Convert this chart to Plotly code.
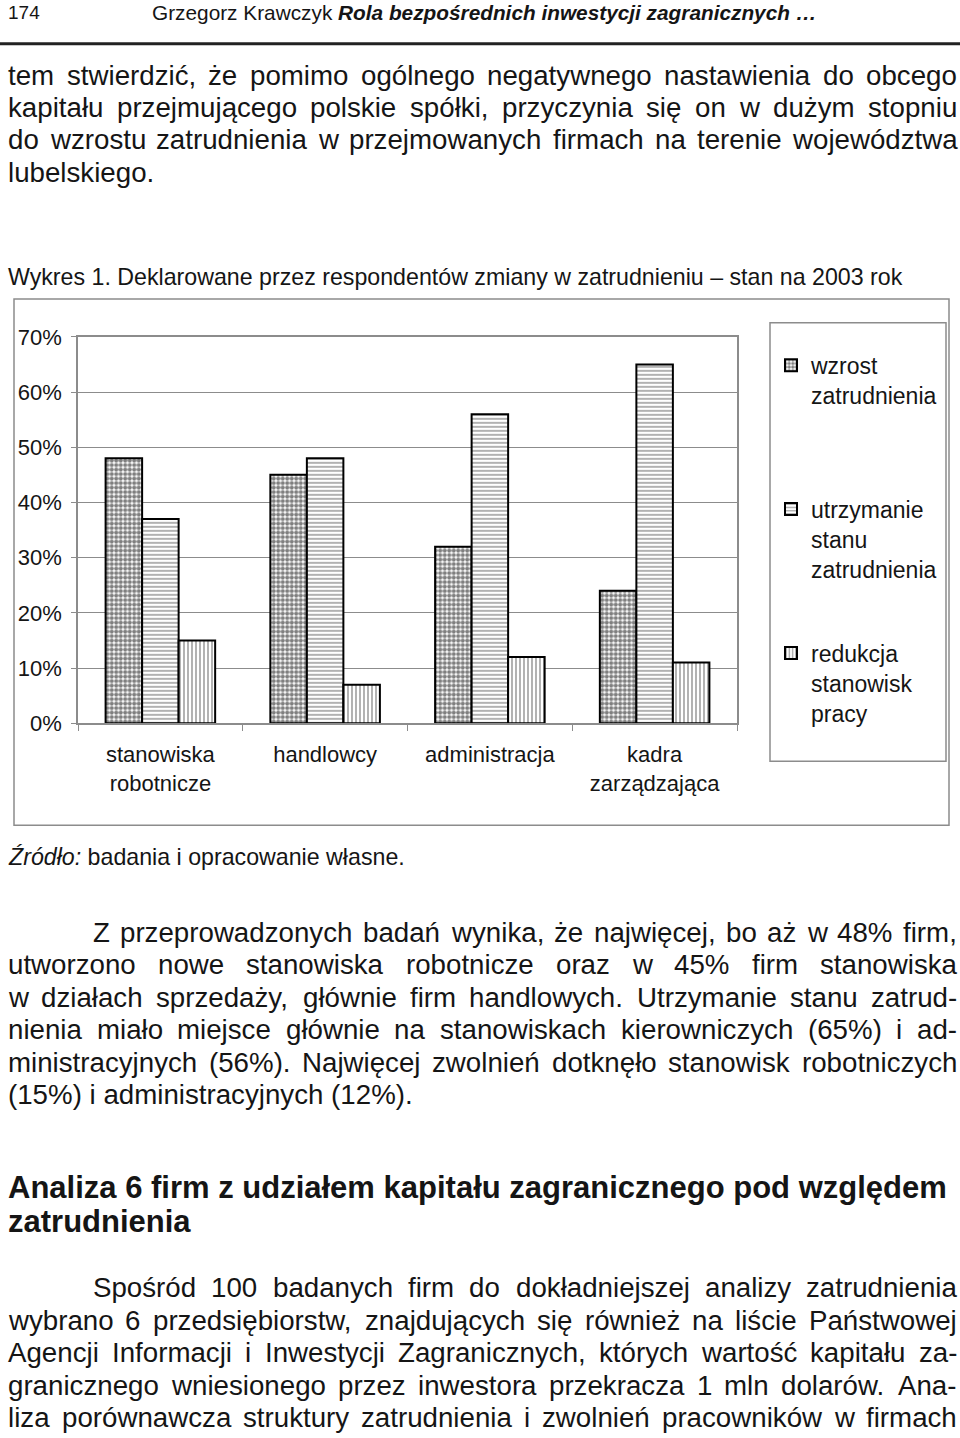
import plotly.graph_objects as go

W, H = 960, 1438
# the page photo comes out slightly taller than the figure (about 11 px added on
# top, rest at the bottom, then squeezed back to 1438); these two numbers undo it
SHIFT, SQUEEZE = 10.7, 0.984

# chart data (shares of firms)
categories = ["stanowiska<br>robotnicze", "handlowcy", "administracja", "kadra<br>zarządzająca"]
wzrost = [0.48, 0.45, 0.32, 0.24]
utrzymanie = [0.37, 0.48, 0.56, 0.65]
redukcja = [0.15, 0.07, 0.12, 0.11]
series_names = ["wzrost<br>zatrudnienia", "utrzymanie<br>stanu<br>zatrudnienia", "redukcja<br>stanowisk<br>pracy"]
y_ticks = [0, 0.1, 0.2, 0.3, 0.4, 0.5, 0.6, 0.7]
y_tick_labels = ["0%", "10%", "20%", "30%", "40%", "50%", "60%", "70%"]

# page text
header_num = "174"
header_text = "Grzegorz Krawczyk <b><i>Rola bezpośrednich inwestycji zagranicznych …</i></b>"
par1 = [
    "tem stwierdzić, że pomimo ogólnego negatywnego nastawienia do obcego",
    "kapitału przejmującego polskie spółki, przyczynia się on w dużym stopniu",
    "do wzrostu zatrudnienia w przejmowanych firmach na terenie województwa",
    "lubelskiego.",
]
caption = "Wykres 1. Deklarowane przez respondentów zmiany w zatrudnieniu – stan na 2003 rok"
source = "<i>Źródło:</i> badania i opracowanie własne."
par2 = [
    "Z przeprowadzonych badań wynika, że najwięcej, bo aż w 48% firm,",
    "utworzono nowe stanowiska robotnicze oraz w 45% firm stanowiska",
    "w działach sprzedaży, głównie firm handlowych. Utrzymanie stanu zatrud-",
    "nienia miało miejsce głównie na stanowiskach kierowniczych (65%) i ad-",
    "ministracyjnych (56%). Najwięcej zwolnień dotknęło stanowisk robotniczych",
    "(15%) i administracyjnych (12%).",
]
heading = ["Analiza 6 firm z udziałem kapitału zagranicznego pod względem", "zatrudnienia"]
par3 = [
    "Spośród 100 badanych firm do dokładniejszej analizy zatrudnienia",
    "wybrano 6 przedsiębiorstw, znajdujących się również na liście Państwowej",
    "Agencji Informacji i Inwestycji Zagranicznych, których wartość kapitału za-",
    "granicznego wniesionego przez inwestora przekracza 1 mln dolarów. Ana-",
    "liza porównawcza struktury zatrudnienia i zwolnień pracowników w firmach",
]

FONT = "Liberation Sans, Arial, sans-serif"
INK = "#151515"
GRAY = "#8c8c8c"
BODY = 27.7


def py(v):
    return 1 - ((v - SHIFT) / SQUEEZE) / H


def px(v):
    return v / W


# approx Arial / Liberation Sans advance widths (1/1000 em)
widths = {}
for chars, w in [
    ("ijlł", 222), ("ftI ,.:", 278), ("r()-", 333), ("cksvxyzćśźżJ", 500),
    ("abdeghnopquąęńó0123456789L", 556), ("FTZŹŻ", 611), ("ABEKPSVXYŚ", 667),
    ("wCDHNRU", 722), ("GOQ", 778), ("mM", 833), ("%", 889), ("W", 944),
]:
    for c in chars:
        widths[c] = w


def text_w(s, size):
    return sum(widths.get(c, 556) for c in s) / 1000 * size


annotations = []


def add_text(text, x, y, size=BODY, anchor="left"):
    annotations.append(dict(
        text=text, x=px(x), y=py(y), xref="paper", yref="paper",
        xanchor=anchor, yanchor="middle", showarrow=False,
        font=dict(family=FONT, size=size, color=INK), borderpad=0,
    ))


def add_justified(line, left, right, y, size=BODY):
    words = line.split()
    total = sum(text_w(w, size) for w in words)
    gap = (right - left - total) / (len(words) - 1)
    x = left
    for w in words:
        add_text(w, x, y, size)
        x += text_w(w, size) + gap


def add_paragraph(lines, y0, step, indent, last_justified=False):
    for i, line in enumerate(lines):
        left = 92 if (indent and i == 0) else 7
        y = y0 + i * step
        if i == len(lines) - 1 and not last_justified:
            add_text(line, left, y)
        else:
            add_justified(line, left, 956, y)


add_text(header_num, 7, 11, size=19)
add_text(header_text, 151, 11, size=20.8)
add_paragraph(par1, 74, 32.4, indent=False)
add_text(caption, 7, 276, size=23.2)
add_text(source, 7, 857, size=23.2)
add_paragraph(par2, 932, 32.6, indent=True)
add_text("<b>" + heading[0] + "</b>", 7, 1188, size=31)
add_text("<b>" + heading[1] + "</b>", 7, 1222, size=31)
add_paragraph(par3, 1288, 32.6, indent=True, last_justified=True)

patterns = [
    dict(shape=".", size=4.5, solidity=0.65, fgcolor="black", bgcolor="white"),
    dict(shape="-", size=4, solidity=0.3, fgcolor="black", bgcolor="white"),
    dict(shape="|", size=4, solidity=0.3, fgcolor="black", bgcolor="white"),
]

fig = go.Figure()
for vals, name, pat, leg in zip(
    [wzrost, utrzymanie, redukcja], series_names, patterns, ["legend", "legend2", "legend3"]
):
    fig.add_trace(go.Bar(
        x=categories, y=vals, name=name, legend=leg, showlegend=True,
        marker=dict(color="white", line=dict(color="black", width=2), pattern=pat),
    ))

legend_style = dict(
    xanchor="left", yanchor="top", bgcolor="rgba(0,0,0,0)", borderwidth=0,
    font=dict(family=FONT, size=23, color=INK), valign="top", itemclick=False,
)

fig.update_layout(
    width=W, height=H, autosize=False, showlegend=True,
    margin=dict(l=0, r=0, t=0, b=0),
    paper_bgcolor="white", plot_bgcolor="white",
    barmode="group", bargap=0.335, bargroupgap=0,
    font=dict(family=FONT, color=INK),
    xaxis=dict(
        domain=[px(78), px(737)], showgrid=False, showline=True, linecolor=GRAY,
        linewidth=1.5, mirror=True, ticks="outside", ticklen=6, tickcolor=GRAY,
        tickson="boundaries", tickfont=dict(family=FONT, size=22, color=INK),
        ticklabelstandoff=11,
    ),
    yaxis=dict(
        domain=[py(723), py(336)], range=[0, 0.7], tickvals=y_ticks, ticktext=y_tick_labels,
        showgrid=True, gridcolor=GRAY, gridwidth=1.2, showline=True, linecolor=GRAY,
        linewidth=1.5, mirror=True, ticks="outside", ticklen=5, tickcolor=GRAY,
        zeroline=False, tickfont=dict(family=FONT, size=22, color=INK),
        ticklabelstandoff=5,
    ),
    legend=dict(x=px(771), y=py(343), **legend_style),
    legend2=dict(x=px(771), y=py(487), **legend_style),
    legend3=dict(x=px(771), y=py(631), **legend_style),
    annotations=annotations,
    shapes=[
        dict(type="line", xref="paper", yref="paper", x0=0, x1=1, y0=py(42.5), y1=py(42.5),
             line=dict(color="#222222", width=3)),
        dict(type="rect", xref="paper", yref="paper", x0=px(14), x1=px(949),
             y0=py(298), y1=py(825), line=dict(color=GRAY, width=1.5)),
        dict(type="rect", xref="paper", yref="paper", x0=px(770), x1=px(946),
             y0=py(322), y1=py(761), line=dict(color=GRAY, width=1.5)),
    ],
)

fig.write_html(
    "out.html",
    config={"displayModeBar": False},
    post_script="document.body.style.margin='0';",
)
